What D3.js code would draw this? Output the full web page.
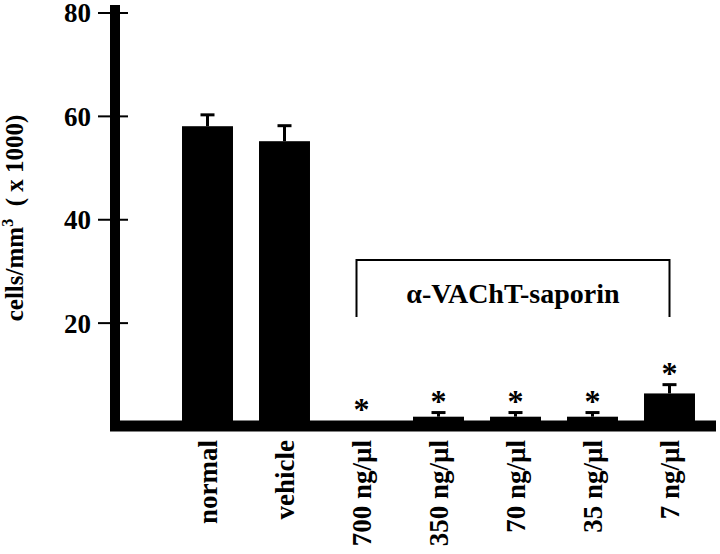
<!DOCTYPE html>
<html>
<head>
<meta charset="utf-8">
<script src="https://cdn.jsdelivr.net/npm/d3@7"></script>
<style>
  html, body { margin: 0; padding: 0; background: #fff; }
  svg { display: block; }
</style>
</head>
<body>
<script>
const categories = ["normal", "vehicle", "700 ng/\u00b5l", "350 ng/\u00b5l", "70 ng/\u00b5l", "35 ng/\u00b5l", "7 ng/\u00b5l"];
const means = [58, 55.1, 0, 1.8, 1.8, 1.8, 6.3];
const errors = [2.2, 3.0, 0, 0.8, 0.8, 0.8, 1.7];
const significant = [false, false, true, true, true, true, true];
const yTicks = [20, 40, 60, 80];
const groupLabel = "\u03b1-VAChT-saporin";
const groupStart = 2, groupEnd = 6;

const FONT = '"Liberation Serif", "Times New Roman", Times, serif';
const W = 720, H = 554;
const svg = d3.select("body").append("svg").attr("width", W).attr("height", H);
function styleText(sel, size) {
  return sel.style("font-family", FONT).style("font-weight", "bold").style("font-size", size + "px").style("fill", "#000");
}

const y = d3.scaleLinear().domain([0, 80]).range([426, 12.5]);
const x = d3.scaleBand().domain(categories).range([169, 708]).paddingInner(0.338).paddingOuter(0.169);

const data = categories.map((c, i) => ({ c, m: means[i], e: errors[i], s: significant[i] }));

// bars
svg.append("g").selectAll("rect").data(data).join("rect")
  .attr("x", d => x(d.c))
  .attr("width", x.bandwidth())
  .attr("y", d => y(d.m))
  .attr("height", d => y(0) - y(d.m))
  .attr("fill", "#000");

// error bars
const eg = svg.append("g").attr("stroke", "#000").attr("stroke-width", 3);
data.filter(d => d.e > 0).forEach(d => {
  const cx = x(d.c) + x.bandwidth() / 2;
  eg.append("line").attr("x1", cx).attr("x2", cx).attr("y1", y(d.m)).attr("y2", y(d.m + d.e));
  eg.append("line").attr("x1", cx - 7).attr("x2", cx + 7).attr("y1", y(d.m + d.e)).attr("y2", y(d.m + d.e));
});

// stars
styleText(svg.append("g").selectAll("text").data(data.filter(d => d.s)).join("text")
  .attr("x", d => x(d.c) + x.bandwidth() / 2)
  .attr("y", d => y(d.m + d.e) + (d.m === 0 ? -6 : -1))
  .attr("text-anchor", "middle")
  .text("*"), 32);

// y axis
const yAxis = d3.axisLeft(y).tickValues(yTicks).tickSize(0).tickPadding(0);
const ga = svg.append("g").attr("transform", "translate(128,0)").call(yAxis);
ga.select(".domain").remove();
ga.selectAll(".tick line").attr("x1", -30).attr("x2", 0).attr("stroke", "#000").attr("stroke-width", 2);
styleText(ga.selectAll(".tick text").attr("x", -37).attr("dy", "0.35em"), 27);

// thick axis lines
svg.append("line").attr("x1", 115).attr("x2", 115).attr("y1", 5).attr("y2", 431).attr("stroke", "#000").attr("stroke-width", 10);
svg.append("line").attr("x1", 110).attr("x2", 716).attr("y1", y(0)).attr("y2", y(0)).attr("stroke", "#000").attr("stroke-width", 11);

// x labels
styleText(svg.append("g").selectAll("text").data(categories).join("text")
  .attr("transform", c => `translate(${x(c) + x.bandwidth() / 2 + 9},440) rotate(-90)`)
  .attr("text-anchor", "end")
  .text(c => c), 27);

// y label
const yl = styleText(svg.append("text")
  .attr("transform", "translate(23,218) rotate(-90)")
  .attr("text-anchor", "middle"), 25);
yl.append("tspan").text("cells/mm");
yl.append("tspan").style("font-size", "16px").attr("dy", -10).text("3");
yl.append("tspan").attr("dy", 10).text("\u00a0\u00a0(\u00a0x\u00a01000)");

// bracket
const bx0 = x(categories[groupStart]) + x.bandwidth() / 2 - 5;
const bx1 = x(categories[groupEnd]) + x.bandwidth() / 2;
svg.append("path")
  .attr("d", `M${bx0},317 V260 H${bx1} V317`)
  .attr("fill", "none").attr("stroke", "#000").attr("stroke-width", 2);
styleText(svg.append("text")
  .attr("x", (bx0 + bx1) / 2).attr("y", 303)
  .attr("text-anchor", "middle")
  .text(groupLabel), 28);
</script>
</body>
</html>
